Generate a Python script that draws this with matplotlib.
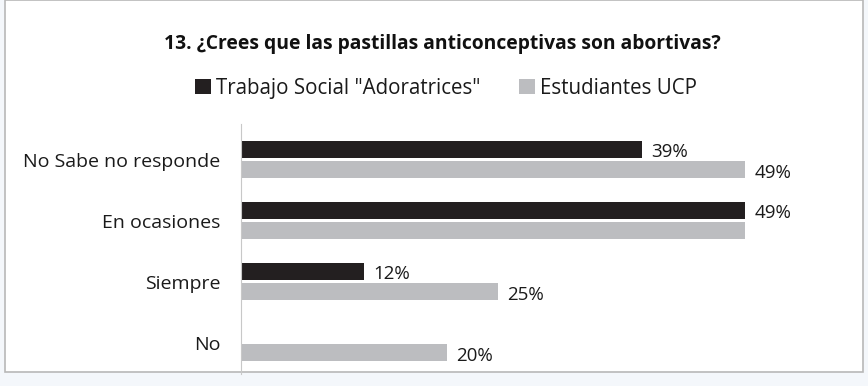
import matplotlib.pyplot as plt
import numpy as np

plt.rcParams['font.family'] = ['Open Sans', 'DejaVu Sans']

categories = ['No Sabe no responde', 'En ocasiones', 'Siempre', 'No']
trabajo_social = [39, 49, 12, 0]
estudiantes_ucp = [49, 49, 25, 20]
label_trabajo = ['39%', '49%', '12%', '']
label_ucp = ['49%', '', '25%', '20%']

fig = plt.figure(figsize=(8.68, 3.86), dpi=100)
fig.patch.set_facecolor('#f4f7fb')

# white chart area with thin gray frame, kept behind the axes
frame = plt.Rectangle((0.006, 0.035), 0.988, 0.965, transform=fig.transFigure,
                      facecolor='white', edgecolor='#b8b8b8', lw=1.2, zorder=-5)
fig.patches.append(frame)

ax = fig.add_axes([0.2777, 0.03, 0.66, 0.65])
ax.set_facecolor('none')

y = np.arange(len(categories))
h = 0.28
off = 0.165
ax.barh(y - off, trabajo_social, height=h, color='#231f20', label='Trabajo Social "Adoratrices"')
ax.barh(y + off, estudiantes_ucp, height=h, color='#bcbdc0', label='Estudiantes UCP')

for i in range(len(categories)):
    if label_trabajo[i]:
        ax.text(trabajo_social[i] + 0.9, y[i] - off + 0.04, label_trabajo[i],
                va='center', ha='left', fontsize=13.5, color='#1a1a1a')
    if label_ucp[i]:
        ax.text(estudiantes_ucp[i] + 0.9, y[i] + off + 0.06, label_ucp[i],
                va='center', ha='left', fontsize=13.5, color='#1a1a1a')

ax.set_xlim(0, 55.7)
ax.set_ylim(3.52, -0.59)
ax.set_yticks(y)
ax.set_yticklabels(categories, fontsize=14, color='#1a1a1a')
ax.tick_params(axis='y', length=0, pad=15)
ax.set_xticks([])
for side in ['top', 'right', 'bottom']:
    ax.spines[side].set_visible(False)
ax.spines['left'].set_color('#c8c8c8')

fig.text(0.51, 0.885, '13. ¿Crees que las pastillas anticonceptivas son abortivas?',
         ha='center', va='center', fontsize=13.9, fontweight='bold', color='#111111')
fig.legend(loc='center', bbox_to_anchor=(0.514, 0.772), ncol=2, frameon=False,
           fontsize=14.8, handlelength=0.75, handleheight=0.75, handletextpad=0.25,
           columnspacing=1.9, labelcolor='#1a1a1a')

fig.savefig('out.png', dpi=100)
